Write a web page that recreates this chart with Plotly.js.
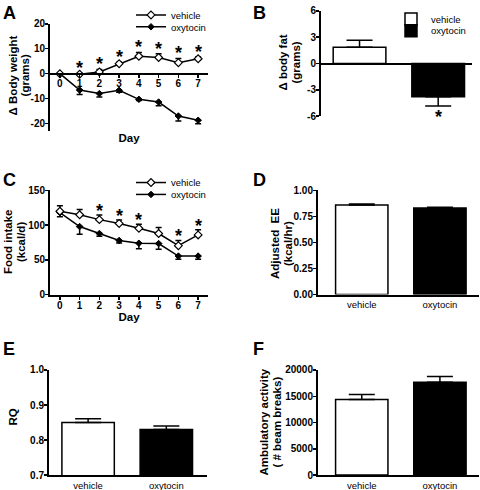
<!DOCTYPE html>
<html><head><meta charset="utf-8">
<script src="https://cdn.plot.ly/plotly-3.0.1.min.js"></script>
<style>html,body{margin:0;padding:0;background:#fff}#chart{width:480px;height:490px}</style>
</head><body><div id="chart"></div>
<script>
// ---------- data ----------
const days = [0, 1, 2, 3, 4, 5, 6, 7];
const dayLabels = ['0', '1', '2', '3', '4', '5', '6', '7'];

// A: change in body weight (grams)
const bwVehicle = [0, -0.2, 0.7, 4, 7, 6.5, 4.4, 6];
const bwVehicleErr = [0, 0.4, 1, 0.6, 1.5, 1.5, 1.7, 0.7];
const bwOxytocin = [0, -6.6, -8, -6.7, -10.3, -11.4, -17, -18.7];
const bwOxytocinErr = [0, 1.8, 1.4, 0.8, 0.5, 1.5, 2, 1.4];
const bwSigDays = [1, 2, 3, 4, 5, 6, 7];
const bwTickVals = [20, 10, 0, -10, -20];
const bwTickText = ['20', '10', '0', '-10', '-20'];

// B: change in body fat (grams)
const groups = ['vehicle', 'oxytocin'];
const fatValues = [1.85, -3.8];
const fatErr = [0.8, 1.05];
const fatSig = [false, true];
const fatTickVals = [6, 3, 0, -3, -6];
const fatTickText = ['6', '3', '0', '-3', '-6'];

// C: food intake (kcal/d)
const fiVehicle = [120, 115, 108, 102.5, 95.5, 88, 70.5, 86];
const fiVehicleErr = [8, 7.5, 6.5, 5, 6, 8.5, 7.5, 7.5];
const fiOxytocin = [118, 98, 88, 78, 74, 73.5, 55.5, 55.5];
const fiOxytocinErr = [6, 11, 4, 3.5, 8, 8, 4.5, 4.5];
const fiSigDays = [2, 3, 4, 6, 7];

// D: adjusted EE (kcal/hr)
const eeValues = [0.86, 0.832];
const eeErr = [0.01, 0.008];
// E: RQ
const rqValues = [0.85, 0.83];
const rqErr = [0.011, 0.01];
// F: ambulatory activity (# beam breaks)
const actValues = [14400, 17650];
const actErr = [950, 1100];

// axis titles (one entry per text line)
const yTitles = [
  ['Δ Body weight', 13, 72], ['(grams)', 25, 72],
  ['Δ body fat', 283, 59], ['(grams)', 296, 59],
  ['Food intake', 8, 240], ['(kcal/d)', 21, 240],
  ['Adjusted  EE', 275, 242], ['(kcal/hr)', 288, 242],
  ['RQ', 13, 417],
  ['Ambulatory activity', 264, 422], ['( # beam breaks)', 277, 422]
];

// ---------- helpers ----------
const W = 480, H = 490;
const FONT = 'Liberation Sans, Arial, sans-serif';
const fx = p => p / W;
const fy = p => 1 - p / H;
const ydom = (top, bottom) => [fy(bottom), fy(top)];
const xdom = (l, r) => [fx(l), fx(r)];
const zeroPos = (dom, r) => dom[0] + (0 - r[0]) / (r[1] - r[0]) * (dom[1] - dom[0]);

function ax(extra) {
  const base = {
    showline: true, linecolor: '#000', linewidth: 2,
    ticks: 'outside', ticklen: 3, tickwidth: 1.5, tickcolor: '#000',
    showgrid: false, zeroline: false, fixedrange: true,
    tickfont: {family: FONT, size: 10, weight: 'bold', color: '#000'}
  };
  return Object.assign(base, extra);
}
const titleFont = {family: FONT, size: 11.5, weight: 'bold', color: '#000'};
const catFont = {family: FONT, size: 9.5, color: '#000'};

// panel geometry
const A = {xd: xdom(50, 208), yd: ydom(20, 128), xr: [-0.5, 7.5], yr: [-23, 20]};
const B = {xd: xdom(321, 472), yd: ydom(7, 113), xr: [-0.49, 1.43], yr: [-6, 6]};
const C = {xd: xdom(50, 208), yd: ydom(188, 293), xr: [-0.5, 7.5], yr: [0, 150]};
const D = {xd: xdom(318, 479), yd: ydom(188, 293), xr: [-0.56, 1.5], yr: [0, 1]};
const E = {xd: xdom(49, 207), yd: ydom(369, 475), xr: [-0.5, 1.52], yr: [0.7, 1.0]};
const F = {xd: xdom(318, 479), yd: ydom(369, 475), xr: [-0.56, 1.5], yr: [0, 20000]};

const vehMarker = {symbol: 'diamond', size: 6, color: '#fff', line: {color: '#000', width: 1.2}};
const oxyMarker = {symbol: 'diamond', size: 5, color: '#000', line: {color: '#000', width: 1}};
const zeros = days.map(() => 0);

function lineTrace(name, y, err, up, marker, xa, ya, legend) {
  return {
    type: 'scatter', mode: 'lines+markers', name: name, x: days, y: y,
    line: {color: '#000', width: 1.5}, marker: marker,
    error_y: {type: 'data', symmetric: false,
      array: up ? err : zeros, arrayminus: up ? zeros : err,
      color: '#000', thickness: 1.5, width: 3},
    xaxis: xa, yaxis: ya, legend: legend, showlegend: !!legend
  };
}
function barTrace(i, vals, errs, xa, ya, legend) {
  const v = vals[i], e = errs[i];
  return {
    type: 'bar', name: groups[i], x: [groups[i]], y: [v], width: 0.67,
    marker: {color: i === 0 ? '#fff' : '#000', line: {color: '#000', width: 1.5}},
    error_y: {type: 'data', symmetric: false,
      array: [v >= 0 ? e : 0], arrayminus: [v >= 0 ? 0 : e],
      color: '#000', thickness: 1.5, width: 13},
    xaxis: xa, yaxis: ya, legend: legend, showlegend: !!legend
  };
}

const data = [
  lineTrace('oxytocin', bwOxytocin, bwOxytocinErr, false, oxyMarker, 'x', 'y', 'legend2'),
  lineTrace('vehicle', bwVehicle, bwVehicleErr, true, vehMarker, 'x', 'y', 'legend'),
  barTrace(0, fatValues, fatErr, 'x2', 'y2', 'legend3'),
  barTrace(1, fatValues, fatErr, 'x2', 'y2', 'legend4'),
  lineTrace('oxytocin', fiOxytocin, fiOxytocinErr, false, oxyMarker, 'x3', 'y3', 'legend6'),
  lineTrace('vehicle', fiVehicle, fiVehicleErr, true, vehMarker, 'x3', 'y3', 'legend5'),
  barTrace(0, eeValues, eeErr, 'x4', 'y4', null),
  barTrace(1, eeValues, eeErr, 'x4', 'y4', null),
  barTrace(0, rqValues, rqErr, 'x5', 'y5', null),
  barTrace(1, rqValues, rqErr, 'x5', 'y5', null),
  barTrace(0, actValues, actErr, 'x6', 'y6', null),
  barTrace(1, actValues, actErr, 'x6', 'y6', null)
];

// annotations: panel letters, y titles and significance stars
const annotations = [];
const letters = [['A', 1, 9], ['B', 251, 9], ['C', 1, 177], ['D', 251, 177], ['E', 1, 348], ['F', 251, 348]];
letters.forEach(([t, x, y]) => annotations.push({
  text: t, xref: 'paper', yref: 'paper', x: fx(x), y: fy(y), xanchor: 'left', yanchor: 'middle',
  showarrow: false, font: {family: FONT, size: 18, weight: 'bold', color: '#000'}
}));
yTitles.forEach(([t, x, y]) => annotations.push({
  text: t, xref: 'paper', yref: 'paper', x: fx(x), y: fy(y), xanchor: 'center', yanchor: 'middle',
  textangle: -90, showarrow: false, font: titleFont
}));
const starFont = {family: FONT, size: 18, weight: 'bold', color: '#000'};
bwSigDays.forEach(d => annotations.push({
  text: '*', x: d, y: bwVehicle[d] + bwVehicleErr[d], xref: 'x', yref: 'y',
  yanchor: 'bottom', yshift: -7, showarrow: false, font: starFont
}));
fiSigDays.forEach(d => annotations.push({
  text: '*', x: d, y: fiVehicle[d] + fiVehicleErr[d], xref: 'x3', yref: 'y3',
  yanchor: 'bottom', yshift: -8, showarrow: false, font: starFont
}));
groups.forEach((g, i) => { if (fatSig[i]) annotations.push({
  text: '*', x: g, y: fatValues[i] - fatErr[i], xref: 'x2', yref: 'y2',
  yanchor: 'top', yshift: 1, showarrow: false, font: starFont
}); });

const legStyle = (x, y) => ({
  x: fx(x), y: fy(y), xanchor: 'left', yanchor: 'middle',
  bgcolor: 'rgba(0,0,0,0)', borderwidth: 0,
  font: {family: FONT, size: 9.5, color: '#000'}
});
const yl = {ticklabelstandoff: -2};

const layout = {
  width: W, height: H, margin: {l: 0, r: 0, t: 0, b: 0},
  paper_bgcolor: '#fff', plot_bgcolor: 'rgba(0,0,0,0)',
  showlegend: true, barmode: 'overlay',
  legend: legStyle(131, 11), legend2: legStyle(131, 23),
  legend3: legStyle(391, 15), legend4: legStyle(391, 27),
  legend5: legStyle(131, 180), legend6: legStyle(131, 192),
  xaxis: ax({domain: A.xd, range: A.xr, anchor: 'free', position: zeroPos(A.yd, A.yr),
    tickvals: days, ticktext: dayLabels, ticklabelstandoff: -3,
    title: {text: 'Day', font: titleFont, standoff: 45}}),
  yaxis: ax(Object.assign({domain: A.yd, range: A.yr, anchor: 'x', tickvals: bwTickVals, ticktext: bwTickText}, yl)),
  xaxis2: ax({domain: B.xd, range: B.xr, anchor: 'free', position: zeroPos(B.yd, B.yr),
    type: 'category', ticks: '', showticklabels: false}),
  yaxis2: ax(Object.assign({domain: B.yd, range: B.yr, anchor: 'x2', tickvals: fatTickVals, ticktext: fatTickText}, yl)),
  xaxis3: ax({domain: C.xd, range: C.xr, anchor: 'y3', tickvals: days, ticktext: dayLabels,
    ticklabelstandoff: -3, title: {text: 'Day', font: titleFont, standoff: 3}}),
  yaxis3: ax(Object.assign({domain: C.yd, range: C.yr, anchor: 'x3', dtick: 50}, yl)),
  xaxis4: ax({domain: D.xd, range: D.xr, anchor: 'y4', type: 'category', ticks: '', tickfont: catFont}),
  yaxis4: ax(Object.assign({domain: D.yd, range: D.yr, anchor: 'x4', dtick: 0.25, tickformat: '.2f'}, yl)),
  xaxis5: ax({domain: E.xd, range: E.xr, anchor: 'y5', type: 'category', ticks: '', tickfont: catFont}),
  yaxis5: ax(Object.assign({domain: E.yd, range: E.yr, anchor: 'x5', dtick: 0.1, tickformat: '.1f'}, yl)),
  xaxis6: ax({domain: F.xd, range: F.xr, anchor: 'y6', type: 'category', ticks: '', tickfont: catFont}),
  yaxis6: ax(Object.assign({domain: F.yd, range: F.yr, anchor: 'x6', dtick: 5000, tickformat: 'd'}, yl)),
  annotations: annotations
};

Plotly.newPlot('chart', data, layout, {displayModeBar: false, staticPlot: true});
</script></body></html>
